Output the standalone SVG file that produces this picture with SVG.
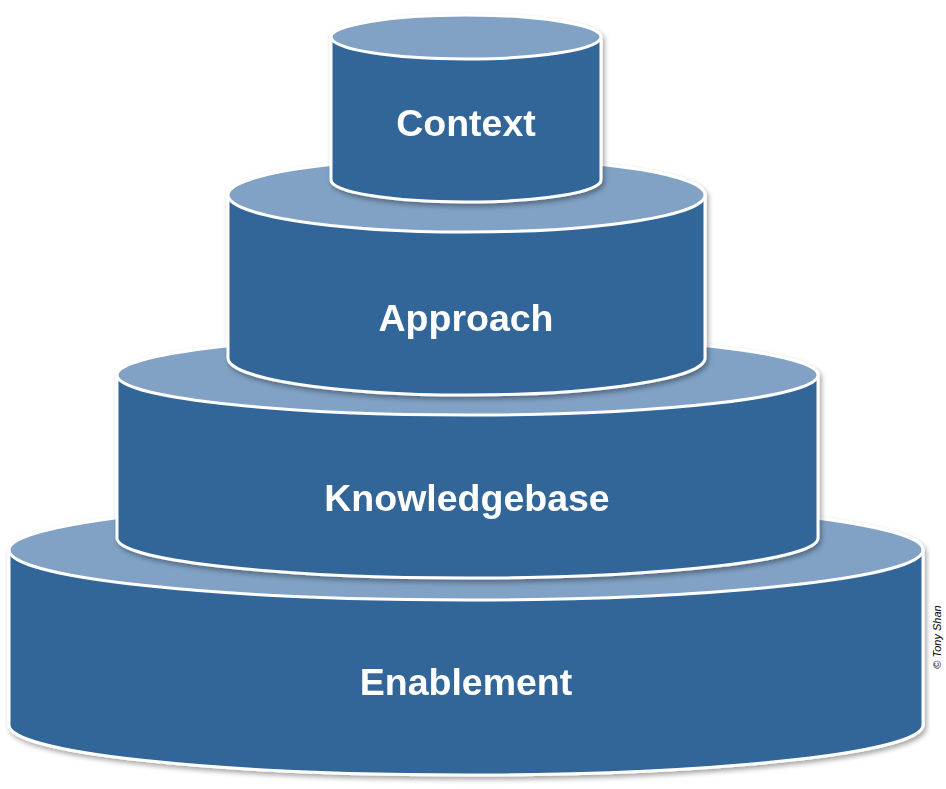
<svg xmlns="http://www.w3.org/2000/svg" width="946" height="789" viewBox="0 0 946 789">
<defs>
<filter id="sh" x="-5%" y="-5%" width="115%" height="120%"><feDropShadow dx="2" dy="3" stdDeviation="2.5" flood-color="#000" flood-opacity="0.35"/></filter>
</defs>
<style>
.body{fill:#336699;stroke:#fff;stroke-width:3}
.top{fill:#81A2C5;stroke:#fff;stroke-width:3}
.lbl{font-family:"Liberation Sans",Arial,sans-serif;font-weight:bold;font-size:37.5px;fill:#fff;text-anchor:middle}
</style>
<rect width="946" height="789" fill="#fff"/>
<g id="enablement" filter="url(#sh)">
<path class="body" d="M9,550 L9,725 A457,50 0 0 0 923,725 L923,550 Z"/>
<ellipse class="top" cx="466" cy="550" rx="457" ry="50"/>
<text class="lbl" x="466" y="695">Enablement</text>
</g>
<g id="knowledgebase" filter="url(#sh)">
<path class="body" d="M117,375 L117,538 A350.5,40 0 0 0 818,538 L818,375 Z"/>
<ellipse class="top" cx="467.5" cy="375" rx="350.5" ry="40"/>
<text class="lbl" x="467" y="511">Knowledgebase</text>
</g>
<g id="approach" filter="url(#sh)">
<path class="body" d="M228,195 L228,358 A238.5,37 0 0 0 705,358 L705,195 Z"/>
<ellipse class="top" cx="466.5" cy="195" rx="238.5" ry="37"/>
<text class="lbl" x="466" y="331">Approach</text>
</g>
<g id="context" filter="url(#sh)">
<path class="body" d="M331,37 L331,180 A135,22 0 0 0 601,180 L601,37 Z"/>
<ellipse class="top" cx="466" cy="37" rx="135" ry="22"/>
<text class="lbl" x="466" y="136">Context</text>
</g>
<text x="941" y="637" transform="rotate(-90 941 637)" font-family="Liberation Sans,Arial,sans-serif" font-style="italic" font-size="11" fill="#000" text-anchor="middle">© Tony Shan</text>
</svg>
